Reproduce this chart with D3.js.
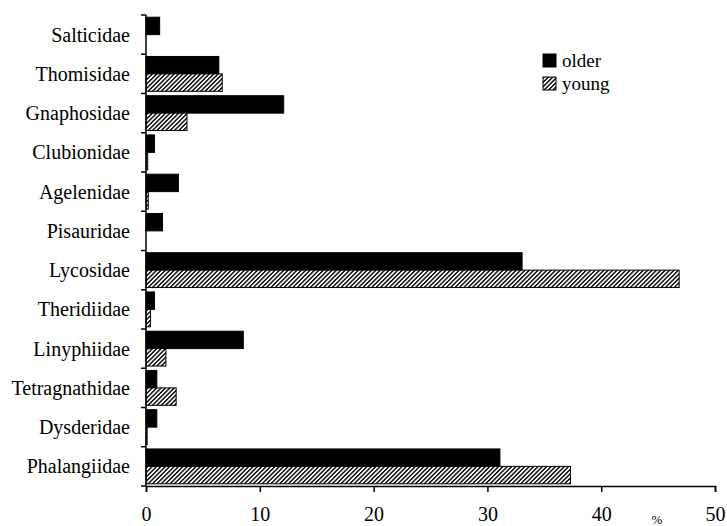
<!DOCTYPE html>
<html>
<head>
<meta charset="utf-8">
<script src="https://cdn.jsdelivr.net/npm/d3@7"></script>
<style>
  html, body { margin: 0; padding: 0; background: #fff; }
  svg { display: block; }
  svg text { font-family: "Liberation Serif", "Times New Roman", serif !important; fill: #000; }
</style>
</head>
<body>
<svg id="chart" width="727" height="526"></svg>
<script>
// Spider families (top to bottom) and their share (%) among older and young stands
const families = ["Salticidae", "Thomisidae", "Gnaphosidae", "Clubionidae", "Agelenidae",
  "Pisauridae", "Lycosidae", "Theridiidae", "Linyphiidae", "Tetragnathidae", "Dysderidae", "Phalangiidae"];
const older = [1.2, 6.4, 12.1, 0.75, 2.85, 1.45, 33.05, 0.75, 8.55, 0.95, 0.95, 31.1];
const young = [0, 6.7, 3.6, 0.15, 0.2, 0, 46.85, 0.4, 1.75, 2.65, 0.1, 37.3];
const seriesNames = ["older", "young"];
const xTicks = [0, 10, 20, 30, 40, 50];

const FONT = "'Liberation Serif', 'Times New Roman', serif";
const svg = d3.select("#chart");

const x = d3.scaleLinear().domain([0, 50]).range([146, 715]);
const y = d3.scaleBand().domain(families).range([15, 486]).padding(0);
const ySub = d3.scaleBand().domain(seriesNames).range([2.2, y.bandwidth() - 2.2]).padding(0);

// diagonal hatch for the "young" series
const defs = svg.append("defs");
const pat = defs.append("pattern")
  .attr("id", "hatch")
  .attr("patternUnits", "userSpaceOnUse")
  .attr("width", 3.1).attr("height", 3.1)
  .attr("patternTransform", "rotate(45)");
pat.append("rect").attr("width", 3.1).attr("height", 3.1).attr("fill", "#fff");
pat.append("line")
  .attr("x1", 0.7).attr("y1", 0).attr("x2", 0.7).attr("y2", 3.1)
  .attr("stroke", "#000").attr("stroke-width", 1.4);

const fills = { older: "#000", young: "url(#hatch)" };

const rows = families.map((f, i) => ({ family: f, values: [
  { key: "older", value: older[i] },
  { key: "young", value: young[i] }
]}));

const g = svg.append("g");
const row = g.selectAll("g.row").data(rows).join("g")
  .attr("class", "row")
  .attr("transform", d => `translate(0,${y(d.family)})`);

row.selectAll("rect").data(d => d.values.filter(v => v.value > 0)).join("rect")
  .attr("x", x(0))
  .attr("y", d => ySub(d.key))
  .attr("width", d => x(d.value) - x(0))
  .attr("height", ySub.bandwidth())
  .attr("fill", d => fills[d.key])
  .attr("stroke", "#000")
  .attr("stroke-width", 1);

// y axis: vertical line with ticks at the category boundaries
const yAxis = svg.append("g");
yAxis.append("line")
  .attr("x1", x(0)).attr("x2", x(0))
  .attr("y1", y.range()[0]).attr("y2", y.range()[1])
  .attr("stroke", "#000").attr("stroke-width", 1.5);
const bounds = families.map(f => y(f)).concat([y.range()[1]]);
yAxis.selectAll("line.tick").data(bounds).join("line")
  .attr("class", "tick")
  .attr("x1", x(0) - 5).attr("x2", x(0))
  .attr("y1", d => d).attr("y2", d => d)
  .attr("stroke", "#000").attr("stroke-width", 1.5);
yAxis.selectAll("text").data(families).join("text")
  .attr("x", 130)
  .attr("y", d => y(d) + y.bandwidth() / 2 + 7)
  .attr("text-anchor", "end")
  .attr("font-family", FONT)
  .attr("font-size", 20)
  .text(d => d);

// x axis
const xAxis = svg.append("g").attr("transform", `translate(0,${y.range()[1]})`)
  .call(d3.axisBottom(x).tickValues(xTicks).tickSize(6).tickPadding(15).tickFormat(d3.format("d")))
  .attr("font-family", FONT);
xAxis.select(".domain").attr("stroke", "#000").attr("stroke-width", 1.5);
xAxis.selectAll(".tick line").attr("stroke", "#000").attr("stroke-width", 1.5);
xAxis.selectAll(".tick text")
  .attr("font-family", FONT)
  .attr("font-size", 20).attr("fill", "#000");

svg.append("text")
  .attr("x", 657).attr("y", 524)
  .attr("text-anchor", "middle")
  .attr("font-family", FONT)
  .attr("font-size", 13)
  .text("%");

// legend
const legend = svg.append("g").attr("transform", "translate(543,54)");
const item = legend.selectAll("g").data(seriesNames).join("g")
  .attr("transform", (d, i) => `translate(0,${i * 23})`);
item.append("rect")
  .attr("width", 13).attr("height", 13)
  .attr("fill", d => fills[d])
  .attr("stroke", "#000").attr("stroke-width", 1);
item.append("text")
  .attr("x", 19).attr("y", 13)
  .attr("font-family", FONT)
  .attr("font-size", 19)
  .text(d => d);
</script>
</body>
</html>
